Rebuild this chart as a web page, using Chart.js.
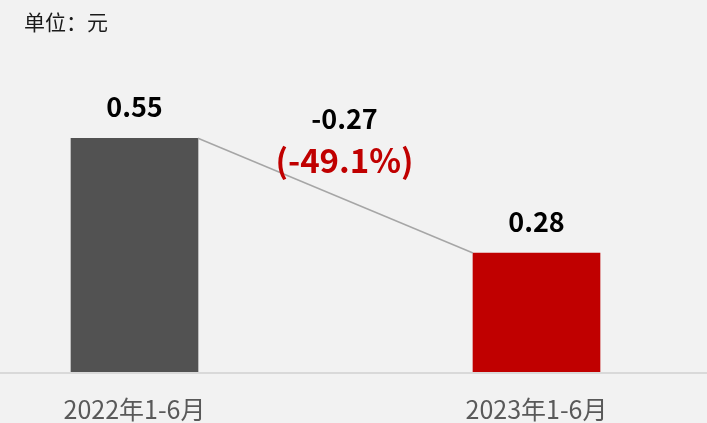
<!DOCTYPE html>
<html>
<head>
<meta charset="utf-8">
<script src="https://cdn.jsdelivr.net/npm/chart.js@4"></script>
<style>
  html, body { margin: 0; padding: 0; background: #f2f2f2; }
  #wrap { position: relative; width: 707px; height: 423px; overflow: hidden; }
  #unit { position: absolute; left: 24px; top: 6px; font: 21px "Noto Sans CJK SC", sans-serif; color: #1a1a1a; }
</style>
</head>
<body>
<div id="wrap">
  <canvas id="myChart" width="707" height="423"></canvas>
  <div id="unit">单位：元</div>
</div>
<script>
// 数据
const categories = ['2022年1-6月', '2023年1-6月'];
const values = [0.55, 0.28];
const barColors = ['#525252', '#c00000'];
const changeText = '-0.27';
const changePct = '(-49.1%)';

const FONT = '"Noto Sans CJK SC", "Noto Sans", sans-serif';

// 标签、连线和底部轴线
const extras = {
    id: 'extras',
    afterDatasetsDraw(chart) {
        const ctx = chart.ctx;
        const bars = chart.getDatasetMeta(0).data;
        const y0 = chart.scales.y.getPixelForValue(0);

        // 轴线
        ctx.save();
        ctx.strokeStyle = '#d9d9d9';
        ctx.lineWidth = 2;
        ctx.beginPath();
        ctx.moveTo(0, y0 + 1);
        ctx.lineTo(chart.width, y0 + 1);
        ctx.stroke();

        // 连线
        const a = bars[0], b = bars[1];
        ctx.strokeStyle = '#a6a6a6';
        ctx.lineWidth = 1.5;
        ctx.beginPath();
        ctx.moveTo(a.x + a.width / 2, a.y);
        ctx.lineTo(b.x - b.width / 2, b.y);
        ctx.stroke();

        // 数值
        ctx.fillStyle = '#000';
        ctx.textAlign = 'center';
        ctx.textBaseline = 'alphabetic';
        ctx.font = 'bold 27px ' + FONT;
        bars.forEach((bar, i) => {
            ctx.fillText(values[i].toFixed(2), bar.x, bar.y - 21);
        });

        // 变化
        const mx = (a.x + a.width / 2 + b.x - b.width / 2) / 2 + 9;
        ctx.fillText(changeText, mx, 129);
        ctx.fillStyle = '#c00000';
        ctx.font = 'bold 33px ' + FONT;
        ctx.fillText(changePct, mx, 173);
        ctx.restore();
    }
};

new Chart(document.getElementById('myChart'), {
    type: 'bar',
    data: {
        labels: categories,
        datasets: [{
            data: values,
            backgroundColor: barColors,
            barThickness: 127,
            clip: false
        }]
    },
    options: {
        responsive: false,
        animation: false,
        layout: { padding: { left: 134.5, right: 170.5, top: 32, bottom: 0 } },
        plugins: { legend: { display: false }, tooltip: { enabled: false } },
        scales: {
            x: {
                offset: false,
                grid: { display: false, drawTicks: false },
                border: { display: false },
                ticks: { color: '#595959', font: { family: FONT, size: 25 }, padding: 22, maxRotation: 0, autoSkip: false },
                afterFit: s => { s.height = 51; }
            },
            y: {
                display: false,
                min: 0,
                max: 0.8
            }
        }
    },
    plugins: [extras]
});
</script>
</body>
</html>
